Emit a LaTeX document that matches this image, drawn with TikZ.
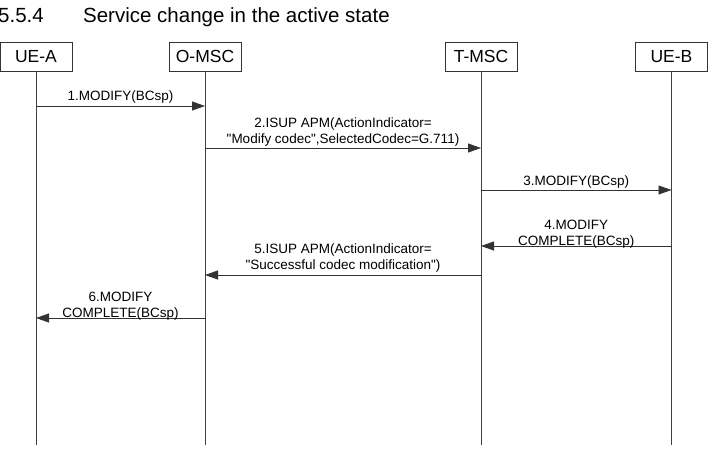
\documentclass[tikz,border=0pt]{standalone}
\usepackage{fontspec}
\setmainfont{Liberation Sans}[Ligatures=TeXOff]
\usetikzlibrary{arrows.meta, positioning}

\begin{document}
\begin{tikzpicture}[x=1pt, y=-1pt, >={Triangle[length=13pt,width=9pt]},
        ent/.style={draw=black!80, line width=0.8pt, inner sep=0pt,
                    minimum width=72pt, minimum height=29pt,
                    font=\fontsize{17.5}{20}\selectfont},
        life/.style={draw=black!75, line width=0.8pt},
        msg/.style={->, draw=black!80, line width=0.8pt},
        lbl/.style={midway, anchor=south, inner sep=0pt, align=center,
                    font=\fontsize{13.5}{16}\selectfont}]

      \useasboundingbox (0,0) rectangle (716,463);

      \node[anchor=base west, inner sep=0pt, font=\fontsize{20.5}{24}\selectfont]
            (title) at (-2,22) {5.5.4\hspace{39.4pt}Service change in the active state};

      \node[ent] (uea)  at (36,56.5)    {UE-A};
      \node[ent] (omsc) at (205,56.5)   {O-MSC};
      \node[ent] (tmsc) at (481,56.5)   {T-MSC};
      \node[ent] (ueb)  at (671.5,56.5) {UE-B};

      \coordinate (uea-end)  at (uea |- 0,445);
      \coordinate (omsc-end) at (omsc |- 0,445);
      \coordinate (tmsc-end) at (tmsc |- 0,445);
      \coordinate (ueb-end)  at (ueb |- 0,445);

      \draw[life] (uea)  -- (uea-end);
      \draw[life] (omsc) -- (omsc-end);
      \draw[life] (tmsc) -- (tmsc-end);
      \draw[life] (ueb)  -- (ueb-end);

      % message levels
      \coordinate (m1) at (0,106);
      \coordinate (m2) at (0,148);
      \coordinate (m3) at (0,190);
      \coordinate (m4) at (0,246);
      \coordinate (m5) at (0,275);
      \coordinate (m6) at (0,318);

      \draw[msg] (uea |- m1) -- node[lbl, yshift=2pt] {1.MODIFY(BCsp)} (omsc |- m1);
      \draw[msg] (omsc |- m2) -- node[lbl, yshift=1pt]
            {2.ISUP APM(ActionIndicator=\\"Modify codec",SelectedCodec=G.711)} (tmsc |- m2);
      \draw[msg] (tmsc |- m3) -- node[lbl, yshift=1pt] {3.MODIFY(BCsp)} (ueb |- m3);
      \draw[msg] (ueb |- m4) -- node[lbl, yshift=-3pt] {4.MODIFY\\COMPLETE(BCsp)} (tmsc |- m4);
      \draw[msg] (tmsc |- m5) -- node[lbl, yshift=2pt]
            {5.ISUP APM(ActionIndicator=\\"Successful codec modification")} (omsc |- m5);
      \draw[msg] (omsc |- m6) -- node[lbl, yshift=-3pt] {6.MODIFY\\COMPLETE(BCsp)} (uea |- m6);
    \end{tikzpicture}
\end{document}
